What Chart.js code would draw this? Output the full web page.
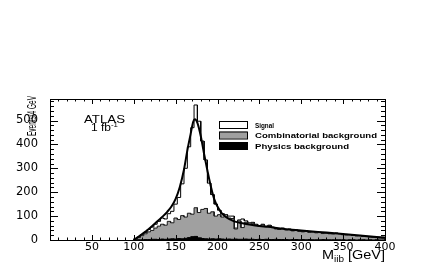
<!DOCTYPE html>
<html>
<head>
<meta charset="utf-8">
<script src="https://cdn.jsdelivr.net/npm/chart.js@4/dist/chart.umd.min.js"></script>
<style>
  html, body { margin: 0; padding: 0; background: #fff; overflow: hidden; }
  canvas { display: block; }
</style>
</head>
<body>
<canvas id="myChart" width="436" height="262"></canvas>
<script>
// bins of 4 GeV, first filled bin starts at 100 GeV
const binWidth = 4;
const binLow = [];
for (let e = 100; e < 400; e += binWidth) binLow.push(e);

// events per bin (bins 100..396)
const physics = [
    0, 1, 1, 2, 2, 3, 3, 2, 4, 3,
    4, 5, 4, 6, 5, 7, 10, 14, 15, 9,
    6, 5, 4, 5, 4, 5, 4, 3, 4, 3,
    4, 3, 3, 4, 3, 3, 2, 3, 2, 3,
    2, 2, 3, 2, 2, 2, 1, 2, 2, 1,
    2, 1, 2, 1, 1, 1, 2, 1, 1, 1,
    1, 1, 1, 0, 1, 1, 0, 1, 1, 0,
    1, 0, 1, 0, 0
];
const combinatorial = [
    4, 9, 17, 24, 32, 37, 47, 56, 62, 59,
    74, 67, 88, 80, 97, 89, 102, 94, 120, 106,
    122, 127, 108, 113, 96, 101, 92, 97, 88, 87,
    42, 77, 49, 70, 63, 67, 60, 55, 62, 53,
    58, 50, 43, 42, 46, 40, 43, 36, 38, 35,
    32, 35, 30, 32, 29, 30, 25, 27, 25, 24,
    27, 25, 21, 21, 21, 18, 17, 17, 14, 14,
    11, 11, 9, 8, 7
];
const signal = [
    1, 2, 4, 6, 10, 14, 16, 20, 26, 26,
    32, 48, 58, 92, 133, 204, 278, 362, 430, 382,
    286, 203, 126, 72, 50, 19, 14, 6, 8, 10,
    4, 4, 36, 6, 6, 4, 4, 2, 2, 2,
    2, 2, 2, 3, 2, 2, 2, 2, 2, 2,
    2, 2, 1, 2, 1, 1, 1, 2, 1, 1,
    1, 1, 1, 1, 1, 1, 1, 1, 1, 1,
    1, 1, 1, 1, 1
];

// fitted curve
const fitX = [100, 105, 110, 115, 120, 125, 130, 135, 140, 145, 150, 155, 160, 164, 168, 171, 173, 176, 180, 184,
    188, 192, 196, 200, 205, 210, 215, 220, 230, 240, 250, 260, 280, 300, 320, 340, 360, 380, 400];
const fitY = [0, 12, 25, 38, 52, 68, 84, 100, 118, 140, 172, 222, 295, 375, 445, 495, 505, 490, 435, 360,
    290, 225, 172, 140, 112, 96, 86, 78, 70, 64, 59, 55, 46, 40, 34, 28, 22, 16, 10];

const xTicks = [0, 50, 100, 150, 200, 250, 300, 350, 400];
const yTicks = [0, 100, 200, 300, 400, 500];

const legendItems = [
    { label: 'Signal', fill: '#ffffff', width: 19 },
    { label: 'Combinatorial background', fill: '#a0a0a0', width: 122 },
    { label: 'Physics background', fill: '#000000', width: 94 },
];

// stacked heights and step outlines
function addUp(...lists) {
    return lists[0].map((_, i) => lists.reduce((s, l) => s + l[i], 0));
}
function steps(values) {
    const pts = [{ x: binLow[0], y: 0 }];
    values.forEach((v, i) => {
        pts.push({ x: binLow[i], y: v });
        pts.push({ x: binLow[i] + binWidth, y: v });
    });
    pts.push({ x: binLow[binLow.length - 1] + binWidth, y: 0 });
    return pts;
}

const physTop = physics;
const combTop = addUp(physics, combinatorial);
const totalTop = addUp(physics, combinatorial, signal);

function stretchText(ctx, text, x, y, font, width, align) {
    ctx.font = font;
    const k = width / ctx.measureText(text).width;
    ctx.save();
    ctx.translate(x, y);
    ctx.scale(k, 1);
    ctx.textAlign = align;
    ctx.fillText(text, 0, 0);
    ctx.restore();
}

const rootStyle = {
    id: 'rootStyle',
    afterDraw(chart) {
        const { ctx, chartArea: a, scales } = chart;
        const x = scales.x, y = scales.y;
        ctx.save();
        ctx.strokeStyle = '#000';
        ctx.lineWidth = 1;
        ctx.strokeRect(a.left + 0.5, a.top + 0.5, a.right - a.left, a.bottom - a.top);

        // ticks inside the frame on all four sides
        ctx.beginPath();
        for (let v = 0; v <= 400; v += 10) {
            const px = Math.round(x.getPixelForValue(v)) + 0.5;
            const len = v % 50 === 0 ? 5 : 2.5;
            ctx.moveTo(px, a.bottom); ctx.lineTo(px, a.bottom - len);
            ctx.moveTo(px, a.top); ctx.lineTo(px, a.top + len);
        }
        for (let v = 0; v <= 580; v += 20) {
            const py = Math.round(y.getPixelForValue(v)) + 0.5;
            const len = v % 100 === 0 ? 8 : 4;
            ctx.moveTo(a.left, py); ctx.lineTo(a.left + len, py);
            ctx.moveTo(a.right, py); ctx.lineTo(a.right - len, py);
        }
        ctx.stroke();

        ctx.fillStyle = '#000';
        ctx.textBaseline = 'alphabetic';

        // ATLAS label
        stretchText(ctx, 'ATLAS', 84, 123, '11px "Liberation Sans"', 41, 'left');
        stretchText(ctx, '1 fb', 91, 131, '10px "Liberation Sans"', 20, 'left');
        stretchText(ctx, '-1', 111, 127, '7px "Liberation Sans"', 7, 'left');

        // legend
        legendItems.forEach((item, i) => {
            const top = 121 + i * 10.5;
            ctx.fillStyle = item.fill;
            ctx.fillRect(219, top, 28, 7);
            ctx.strokeStyle = '#000';
            ctx.strokeRect(219.5, top + 0.5, 28, 7);
            ctx.fillStyle = '#000';
            stretchText(ctx, item.label, 255, top + 6.5, 'bold 8px "Liberation Sans"', item.width, 'left');
        });

        // y axis title
        ctx.save();
        ctx.translate(36, 96);
        ctx.rotate(-Math.PI / 2);
        stretchText(ctx, 'Events/4 GeV', 0, 0, '13px "Liberation Sans"', 40, 'right');
        ctx.restore();

        // x axis title M_jjb [GeV]
        const parts = [
            { t: 'M', f: '13px "Liberation Sans"', dy: 0 },
            { t: 'jjb', f: '9px "Liberation Sans"', dy: 3 },
            { t: ' [GeV]', f: '13px "Liberation Sans"', dy: 0 },
        ];
        let natural = 0;
        parts.forEach(p => { ctx.font = p.f; p.w = ctx.measureText(p.t).width; natural += p.w; });
        const k = 63 / natural;
        let cx = 385 - 63;
        parts.forEach(p => {
            stretchText(ctx, p.t, cx, 259 + p.dy, p.f, p.w * k, 'left');
            cx += p.w * k;
        });
        ctx.restore();
    }
};

const ctx = document.getElementById('myChart').getContext('2d');

new Chart(ctx, {
    type: 'line',
    data: {
        datasets: [
            {
                label: 'Fit',
                data: fitX.map((v, i) => ({ x: v, y: fitY[i] })),
                borderColor: '#000',
                borderWidth: 2,
                cubicInterpolationMode: 'monotone',
                pointRadius: 0,
                fill: false,
                order: 0,
            },
            {
                label: 'Physics background',
                data: steps(physTop),
                borderColor: '#000',
                backgroundColor: '#000',
                borderWidth: 1,
                pointRadius: 0,
                tension: 0,
                fill: 'origin',
                order: 1,
            },
            {
                label: 'Combinatorial background',
                data: steps(combTop),
                borderColor: '#1a1a1a',
                backgroundColor: '#a0a0a0',
                borderWidth: 1,
                pointRadius: 0,
                tension: 0,
                fill: 'origin',
                order: 2,
            },
            {
                label: 'Signal',
                data: steps(totalTop),
                borderColor: '#000',
                backgroundColor: '#fff',
                borderWidth: 1,
                pointRadius: 0,
                tension: 0,
                fill: 'origin',
                order: 3,
            },
        ],
    },
    options: {
        responsive: false,
        animation: false,
        devicePixelRatio: 1,
        layout: { padding: { left: 0, right: 51, top: 99, bottom: 0 } },
        plugins: {
            legend: { display: false },
            tooltip: { enabled: false },
        },
        scales: {
            x: {
                type: 'linear',
                min: 0,
                max: 400,
                grid: { display: false },
                border: { display: false },
                afterFit: (s) => { s.height = 22; },
                afterBuildTicks: (s) => { s.ticks = xTicks.map(v => ({ value: v })); },
                ticks: {
                    padding: -7,
                    maxRotation: 0,
                    autoSkip: false,
                    color: '#000',
                    font: { family: 'DejaVu Sans', size: 11 },
                    callback: (v) => (v === 0 ? '' : v),
                },
            },
            y: {
                min: 0,
                max: 590,
                grid: { display: false },
                border: { display: false },
                afterFit: (s) => { s.width = 50; },
                afterBuildTicks: (s) => { s.ticks = yTicks.map(v => ({ value: v })); },
                ticks: {
                    padding: 4,
                    color: '#000',
                    font: { family: 'DejaVu Sans', size: 11.5 },
                },
            },
        },
    },
    plugins: [rootStyle],
});
</script>
</body>
</html>
